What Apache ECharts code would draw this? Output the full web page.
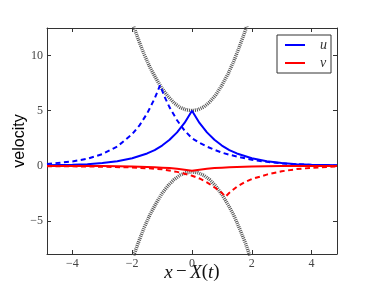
<!DOCTYPE html>
<html><head><meta charset="utf-8">
<script src="https://cdn.jsdelivr.net/npm/echarts@6/dist/echarts.min.js"></script>
<style>html,body{margin:0;padding:0;background:#fff}#c{width:374px;height:283px}</style>
</head><body><div id="c"></div><script>
// ---- data ----
const xTicks = [-4, -2, 0, 2, 4];
const xTickLabels = ['\u22124', '\u22122', '0', '2', '4'];
const yTicks = [-5, 0, 5, 10];
const yTickLabels = ['\u22125', '0', '5', '10'];

// u (solid blue)
const uX = [-4.85,-4,-3.5,-3,-2.5,-2,-1.5,-1.25,-1,-0.75,-0.5,-0.25,0,0.25,0.5,0.75,1,1.25,1.5,2,2.5,3,3.5,4,4.85];
const uY = [0.04,0.09,0.15,0.25,0.41,0.68,1.12,1.43,1.84,2.36,3.03,3.89,5,3.89,3.03,2.36,1.84,1.43,1.12,0.68,0.41,0.25,0.15,0.09,0.04];
// v (solid red)
const vX = [-4.85,-4,-3,-2.5,-2,-1.5,-1.25,-1,-0.75,-0.5,-0.25,0,0.25,0.5,0.75,1,1.25,1.5,2,2.5,3,4,4.85];
const vY = [-0.01,-0.01,-0.02,-0.04,-0.06,-0.1,-0.13,-0.17,-0.21,-0.27,-0.35,-0.45,-0.35,-0.27,-0.21,-0.17,-0.13,-0.1,-0.06,-0.04,-0.02,-0.01,-0.01];
// u later (dashed blue)
const u2X = [-4.85,-4,-3.5,-3,-2.5,-2,-1.75,-1.5,-1.25,-1.07,-0.9,-0.75,-0.5,-0.25,0,0.25,0.5,0.75,1,1.25,1.5,2,2.5,3,3.5,4,4.85];
const u2Y = [0.17,0.39,0.64,1.06,1.75,2.88,3.69,4.75,6.1,7.3,6.16,5.3,4.13,3.2,2.5,2.08,1.74,1.45,1.2,1.0,0.85,0.55,0.36,0.22,0.14,0.08,0.03];
// v later (dashed red)
const v2X = [-4.85,-4,-3,-2,-1.5,-1,-0.5,-0.25,0,0.25,0.5,0.75,1,1.12,1.25,1.5,1.75,2,2.5,3,3.5,4,4.85];
const v2Y = [-0.03,-0.05,-0.08,-0.15,-0.22,-0.32,-0.55,-0.72,-0.9,-1.15,-1.5,-1.95,-2.45,-2.8,-2.45,-1.9,-1.5,-1.2,-0.8,-0.5,-0.3,-0.18,-0.06];
// upper envelope (dotted grey)
const eUX = [-2.2,-2,-1.8,-1.6,-1.4,-1.2,-1,-0.8,-0.6,-0.4,-0.2,0,0.2,0.4,0.6,0.8,1,1.2,1.4,1.6,1.8,2];
const eUY = [14.7,13,11.5,10.1,8.9,7.9,7,6.3,5.7,5.3,5.08,5,5.09,5.35,5.8,6.45,7.3,8.3,9.5,10.9,12.4,14.1];
// lower envelope (dotted grey)
const eLX = [-2.2,-2,-1.8,-1.6,-1.4,-1.2,-1,-0.8,-0.6,-0.4,-0.2,0,0.2,0.4,0.6,0.8,1,1.2,1.4,1.6,1.8,2];
const eLY = [-10.2,-8.5,-7,-5.6,-4.4,-3.4,-2.5,-1.8,-1.25,-0.85,-0.63,-0.55,-0.63,-0.87,-1.28,-1.85,-2.6,-3.5,-4.5,-5.75,-7.1,-8.7];

const zip = (xs, ys) => xs.map((x, i) => [x, ys[i]]);

const axisColor = '#333';
const tickFont = {fontFamily: 'Liberation Serif', fontSize: 12, color: '#444'};

function xAx(pos, labels) {
  return {
    type: 'value', min: -4.85, max: 4.85, position: pos,
    axisLine: {show: true, onZero: false, lineStyle: {color: axisColor, width: 1}},
    axisTick: {show: true, inside: true, length: 4, customValues: xTicks, lineStyle: {color: axisColor}},
    axisLabel: labels ? Object.assign({customValues: xTicks, margin: 4,
      formatter: v => xTickLabels[xTicks.indexOf(v)]}, tickFont) : {show: false},
    splitLine: {show: false}
  };
}
function yAx(pos, labels) {
  return {
    type: 'value', min: -8, max: 12.5, position: pos,
    axisLine: {show: true, onZero: false, lineStyle: {color: axisColor, width: 1}},
    axisTick: {show: true, inside: true, length: 4, customValues: yTicks, lineStyle: {color: axisColor}},
    axisLabel: labels ? Object.assign({customValues: yTicks, margin: 4,
      formatter: v => yTickLabels[yTicks.indexOf(v)]}, tickFont) : {show: false},
    splitLine: {show: false}
  };
}

const xb = xAx('bottom', true);
xb.name = '{i|x} {n|\u2212} {i|X}{n|(}{i|t}{n|)}';
xb.nameLocation = 'middle';
xb.nameGap = 9;
xb.nameMoveOverlap = false;
xb.nameTextStyle = {rich: {
  i: {fontFamily: 'Liberation Serif', fontStyle: 'italic', fontSize: 19, color: '#111'},
  n: {fontFamily: 'Liberation Serif', fontSize: 19, color: '#111'}
}};
const yl = yAx('left', true);
yl.name = 'velocity';
yl.nameLocation = 'middle';
yl.nameGap = 19;
yl.nameMoveOverlap = false;
yl.nameTextStyle = {fontFamily: 'Liberation Sans', fontSize: 16, color: '#000'};

const dotted = {color: '#555', width: 3.5, type: [1, 1]};
const lineIcon = 'path://M0,0L0.01,0L0.01,0.01ZM0,6L20,6L20,8L0,8ZM0,14L0.01,14L0.01,13.99Z';

const chart = echarts.init(document.getElementById('c'), null, {renderer: 'canvas'});
chart.setOption({
  animation: false,
  backgroundColor: '#fff',
  grid: {left: 47, right: 37, top: 28, bottom: 29, containLabel: false, outerBoundsMode: 'none'},
  xAxis: [xb, xAx('top', false)],
  yAxis: [yl, yAx('right', false)],
  legend: {
    data: [{name: 'u', icon: lineIcon}, {name: 'v', icon: lineIcon}],
    orient: 'vertical', left: 277, top: 35,
    padding: [3, 4, 3, 8], itemWidth: 20, itemHeight: 14, itemGap: 4,
    backgroundColor: '#fff', borderColor: '#333', borderWidth: 1, borderRadius: 0,
    textStyle: {fontFamily: 'Liberation Serif', fontStyle: 'italic', fontSize: 14, color: '#333', padding: [0, 0, 0, 10]}
  },
  series: [
    {name: 'upper', type: 'line', data: zip(eUX, eUY), showSymbol: false, symbol: 'none', lineStyle: dotted, z: 1},
    {name: 'lower', type: 'line', data: zip(eLX, eLY), showSymbol: false, symbol: 'none', lineStyle: dotted, z: 1},
    {name: 'u', type: 'line', data: zip(uX, uY), showSymbol: false, symbol: 'none', color: '#0000ff', lineStyle: {color: '#0000ff', width: 2}, z: 3},
    {name: 'v', type: 'line', data: zip(vX, vY), showSymbol: false, symbol: 'none', color: '#ff0000', lineStyle: {color: '#ff0000', width: 2}, z: 3},
    {name: 'u2', type: 'line', data: zip(u2X, u2Y), showSymbol: false, symbol: 'none', lineStyle: {color: '#0000ff', width: 2, type: [5, 3.5]}, z: 2},
    {name: 'v2', type: 'line', data: zip(v2X, v2Y), showSymbol: false, symbol: 'none', lineStyle: {color: '#ff0000', width: 2, type: [5, 3.5]}, z: 2}
  ]
});
</script></body></html>
